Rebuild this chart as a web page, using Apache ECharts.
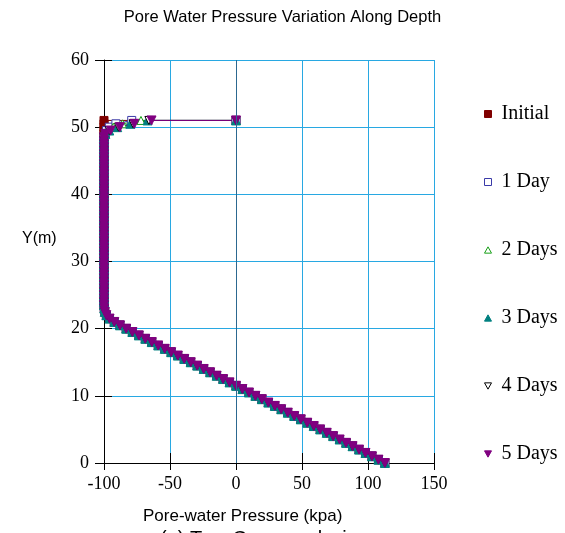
<!DOCTYPE html>
<html>
<head>
<meta charset="utf-8">
<script src="https://cdn.jsdelivr.net/npm/echarts@6/dist/echarts.min.js"></script>
<style>
  html, body { margin: 0; padding: 0; background: #fff; }
  #chart { width: 565px; height: 533px; }
</style>
</head>
<body>
<div id="chart"></div>
<script>
// Elevation (m) of the profile points shared by every time step, bottom to y = 48.5
const baseDepth = [
  0, 0.5, 1, 1.5, 2, 2.5, 3, 3.5, 4, 4.5, 5, 5.5, 6, 6.5, 7, 7.5, 8, 8.5, 9, 9.5,
  10, 10.5, 11, 11.5, 12, 12.5, 13, 13.5, 14, 14.5, 15, 15.5, 16, 16.5, 17, 17.5, 18, 18.5, 19, 19.5,
  20, 20.5, 21, 21.5, 22, 22.5, 23, 23.5, 24, 24.5, 25, 25.5, 26, 26.5, 27, 27.5, 28, 28.5, 29, 29.5,
  30, 30.5, 31, 31.5, 32, 32.5, 33, 33.5, 34, 34.5, 35, 35.5, 36, 36.5, 37, 37.5, 38, 38.5, 39, 39.5,
  40, 40.5, 41, 41.5, 42, 42.5, 43, 43.5, 44, 44.5, 45, 45.5, 46, 46.5, 47, 47.5, 48, 48.5
];
// Pore-water pressure (kPa) at those elevations
const basePressure = [
  112.8, 107.9, 103.0, 98.1, 93.2, 88.3, 83.4, 78.5, 73.6, 68.7, 63.8, 58.9, 54.0, 49.1, 44.1, 39.2, 34.3, 29.4, 24.5, 19.6,
  14.7, 9.8, 4.9, 0.0, -4.9, -9.8, -14.7, -19.6, -24.5, -29.4, -34.3, -39.2, -44.1, -49.1, -54.0, -58.9, -63.8, -68.7, -73.6, -78.5,
  -83.2, -87.9, -92.2, -95.8, -98.2, -99.4, -99.8, -100, -100, -100, -100, -100, -100, -100, -100, -100, -100, -100, -100, -100,
  -100, -100, -100, -100, -100, -100, -100, -100, -100, -100, -100, -100, -100, -100, -100, -100, -100, -100, -100, -100,
  -100, -100, -100, -100, -100, -100, -100, -100, -100, -100, -100, -100, -100, -100, -100, -100, -100, -100
];

// Near-surface part of each profile (y = 49 .. 51 plus the surface point)
const topDepth = [49, 49.5, 50, 50.5, 51, 51];
const topInitial = [-100, -100, -100, -100, -100, 0];
const top1Day    = [-99, -98, -96, -91, -79, 0];
const top2Days   = [-99, -97, -93, -86, -72, 0];
const top3Days   = [-99, -96, -90, -80, -67, 0];
const top4Days   = [-99, -96, -89, -78, -66, 0];
const top5Days   = [-99, -95, -88, -77, -64, 0];

const seriesNames = ['Initial', '1 Day', '2 Days', '3 Days', '4 Days', '5 Days'];
const seriesTops = [topInitial, top1Day, top2Days, top3Days, top4Days, top5Days];

const xTicks = { min: -100, max: 150, interval: 50 };
const yTicks = { min: 0, max: 60, interval: 10 };

const DOWN_TRI = 'path://M0,0L10,0L5,9Z';
const UP_TRI = 'path://M5,0L10,9L0,9Z';
const styles = [
  { symbol: 'rect',   fill: '#800000', stroke: '#800000', size: 8 },
  { symbol: 'rect',   fill: '#ffffff', stroke: '#3a3aa8', size: 8 },
  { symbol: UP_TRI,   fill: '#ffffff', stroke: '#18a018', size: 8 },
  { symbol: UP_TRI,   fill: '#008080', stroke: '#008080', size: 9 },
  { symbol: DOWN_TRI, fill: '#ffffff', stroke: '#000000', size: 8 },
  { symbol: DOWN_TRI, fill: '#800080', stroke: '#800080', size: 9 }
];

function profile(top) {
  const pts = [];
  for (let i = 0; i < baseDepth.length; i++) pts.push([basePressure[i], baseDepth[i]]);
  for (let i = 0; i < topDepth.length; i++) pts.push([top[i], topDepth[i]]);
  return pts;
}

const series = seriesNames.map((name, i) => ({
  name: name,
  type: 'line',
  xAxisIndex: 0,
  yAxisIndex: 0,
  data: profile(seriesTops[i]),
  symbol: styles[i].symbol,
  symbolSize: styles[i].size,
  showAllSymbol: true,
  animation: false,
  lineStyle: { color: styles[i].stroke, width: 1 },
  itemStyle: { color: styles[i].fill, borderColor: styles[i].stroke, borderWidth: 1 },
  emphasis: { disabled: true }
}));

// darker zero-pressure line
series[0].markLine = {
  silent: true,
  symbol: 'none',
  label: { show: false },
  lineStyle: { color: '#2c6890', width: 1, type: 'solid' },
  data: [{ xAxis: 0 }],
  animation: false
};

const tickFont = { fontFamily: 'Liberation Serif', fontSize: 18, color: '#000' };
const gridBlue = '#28a8e2';

const chart = echarts.init(document.getElementById('chart'), null, { renderer: 'canvas' });
chart.setOption({
  animation: false,
  backgroundColor: '#ffffff',
  grid: { left: 104, right: 131, top: 60, bottom: 70, containLabel: false },
  xAxis: [
    {
      type: 'value', position: 'bottom', min: xTicks.min, max: xTicks.max, interval: xTicks.interval,
      axisLine: { show: true, onZero: false, lineStyle: { color: '#000', width: 1 } },
      axisTick: { show: true, inside: false, length: 7, lineStyle: { color: '#000' } },
      axisLabel: Object.assign({ margin: 12 }, tickFont),
      splitLine: { show: true, lineStyle: { color: gridBlue, width: 1 } }
    },
    {
      type: 'value', position: 'bottom', min: xTicks.min, max: xTicks.max, interval: xTicks.interval,
      axisLine: { show: false, onZero: false },
      axisTick: { show: true, inside: true, length: 10, lineStyle: { color: '#000' } },
      axisLabel: { show: false },
      splitLine: { show: false }
    }
  ],
  yAxis: [
    {
      type: 'value', position: 'left', min: yTicks.min, max: yTicks.max, interval: yTicks.interval,
      axisLine: { show: true, onZero: false, lineStyle: { color: '#000', width: 1 } },
      axisTick: { show: true, inside: false, length: 9, lineStyle: { color: '#000' } },
      axisLabel: Object.assign({ margin: 15 }, tickFont),
      splitLine: { show: true, lineStyle: { color: gridBlue, width: 1 } }
    },
    {
      type: 'value', position: 'left', min: yTicks.min, max: yTicks.max, interval: yTicks.interval,
      axisLine: { show: false, onZero: false },
      axisTick: { show: true, inside: true, length: 8, lineStyle: { color: '#000' } },
      axisLabel: { show: false },
      splitLine: { show: false }
    }
  ],
  legend: {
    orient: 'vertical',
    left: 479,
    top: 99,
    itemWidth: 7,
    itemHeight: 7,
    itemGap: 48,
    selectedMode: false,
    textStyle: { fontFamily: 'Liberation Serif', fontSize: 20, color: '#000', padding: [0, 0, 0, 5] },
    data: seriesNames.map((n, i) => ({
      name: n,
      icon: styles[i].symbol,
      itemStyle: { color: styles[i].fill, borderColor: styles[i].stroke, borderWidth: 1 }
    }))
  },
  graphic: [
    { type: 'text', left: 'center', top: 9,
      style: { text: 'Pore Water Pressure Variation Along Depth', font: '16.5px "Liberation Sans"', fill: '#000' } },
    { type: 'text', left: 22, top: 231,
      style: { text: 'Y(m)', font: '16px "Liberation Sans"', fill: '#000' } },
    { type: 'text', left: 143, top: 508,
      style: { text: 'Pore-water Pressure (kpa)', font: '17px "Liberation Sans"', fill: '#000' } },
    { type: 'text', left: 160, top: 529,
      style: { text: '(a) Two Case analysis', font: '20px "Liberation Sans"', fill: '#000' } }
  ],
  series: series
});
</script>
</body>
</html>
